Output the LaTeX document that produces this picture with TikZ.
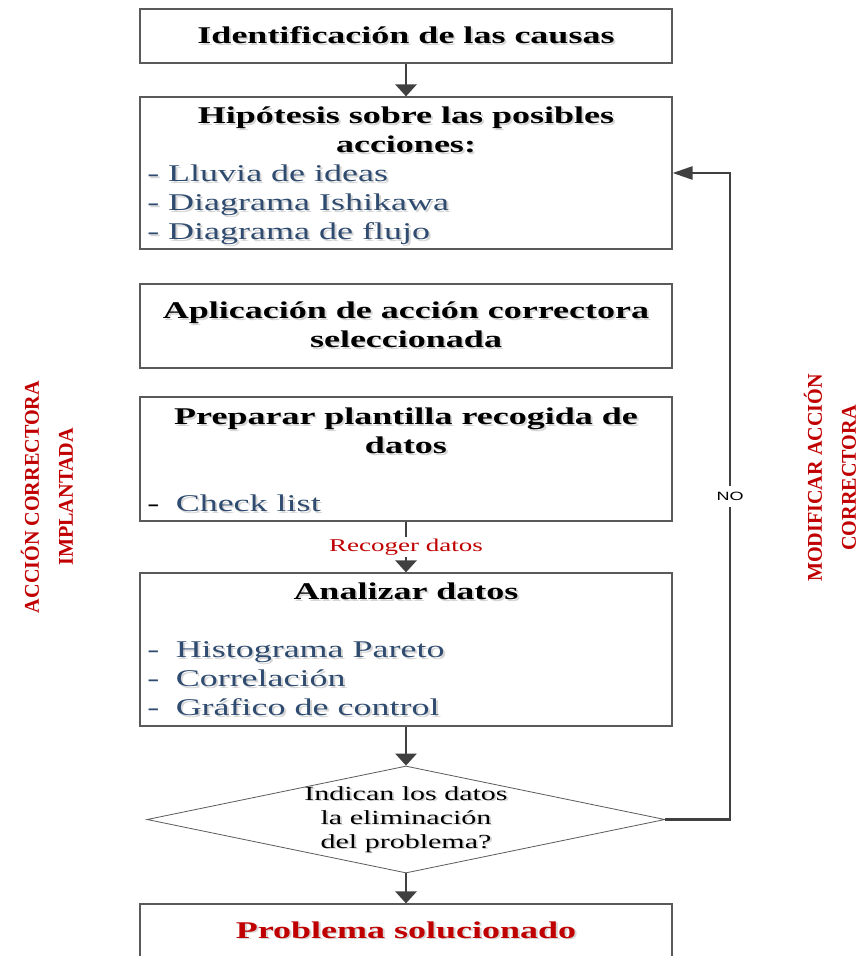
\documentclass[tikz,border=0pt]{standalone}
\usepackage{fontspec}
\setmainfont{Liberation Serif}
\newfontfamily\nofont{Liberation Sans}
\usepackage{graphicx}
\usetikzlibrary{arrows.meta,shapes.geometric}

\definecolor{linegray}{HTML}{404040}
\definecolor{framegray}{HTML}{5A5A5A}
\definecolor{accred}{HTML}{C00000}
\definecolor{itemblue}{HTML}{2F4B70}
\definecolor{ghost}{gray}{0.84}

% horizontally widened text, as in the original layout
\newcommand\wide[1]{\scalebox{1.5}[1]{#1}}
% text with a soft grey drop shadow
\newcommand\shd[1]{\leavevmode\rlap{\hspace{1.3pt}\raisebox{-1.6pt}{\color{ghost}#1}}#1}
% item with a wide dash
\newcommand\itm[1]{\leavevmode\makebox[19pt][l]{-}\shd{#1}}

\tikzset{
  stepbox/.style={draw=framegray, line width=1.2pt, fill=white, rectangle,
    minimum width=532pt, inner sep=0pt, align=center},
  ttl/.style={font=\bfseries\fontsize{24}{29}\selectfont},
  flow/.style={draw=linegray, line width=2.8pt, -{Triangle[length=12pt,width=21pt]}},
  back/.style={draw=linegray, line width=2.5pt, -{Triangle[length=20pt,width=13pt]}},
  sidelbl/.style={rotate=90, text=accred, align=center,
    font=\bfseries\fontsize{21}{34}\selectfont},
}

\begin{document}
\begin{tikzpicture}[x=1pt,y=-1pt]
\useasboundingbox (0,0) rectangle (866,956);

% main column of steps
\node[stepbox, minimum height=54pt, ttl] (b1) at (406,36)
  {\wide{\shd{Identificación de las causas}}};

\node[stepbox, minimum height=152pt] (b2) at (406,173)
  {\wide{\begin{minipage}{345pt}\fontsize{24}{29}\selectfont
    \vspace*{8pt}
    \centering\bfseries \shd{Hipótesis sobre las posibles}\\ \shd{acciones:}\par
    \raggedright\mdseries\color{itemblue}
    \shd{- Lluvia de ideas}\\ \shd{- Diagrama Ishikawa}\\ \shd{- Diagrama de flujo}
  \end{minipage}}};

\node[stepbox, minimum height=84pt] (b3) at (406,326)
  {\wide{\begin{minipage}{345pt}\fontsize{24}{29}\selectfont
    \centering\bfseries \shd{Aplicación de acción correctora}\\ \shd{seleccionada}
  \end{minipage}}};

\node[stepbox, minimum height=124pt] (b4) at (406,459)
  {\wide{\begin{minipage}{345pt}\fontsize{24}{29}\selectfont
    \vspace*{3pt}
    \centering\bfseries \shd{Preparar plantilla recogida de}\\ \shd{datos}\par
    \vspace{29pt}\raggedright\mdseries
    \leavevmode\makebox[19pt][l]{-}{\color{itemblue}\shd{Check list}}
  \end{minipage}}};

\node[stepbox, minimum height=153pt] (b5) at (406,649.5)
  {\wide{\begin{minipage}{345pt}\fontsize{24}{29}\selectfont
    \vspace*{2pt}
    \centering\bfseries \shd{Analizar datos}\par
    \vspace{29pt}\raggedright\mdseries\color{itemblue}
    \itm{Histograma Pareto}\\ \itm{Correlación}\\ \itm{Gráfico de control}
  \end{minipage}}};

\node[draw=framegray, line width=0.8pt, diamond, minimum width=518pt,
      minimum height=107pt, inner sep=0pt,
      label={[name=dtext, align=center, font=\fontsize{20}{24}\selectfont]center:
        \wide{\begin{tabular}{@{}c@{}}\shd{Indican los datos}\\ \shd{la eliminación}\\
        \shd{del problema?}\end{tabular}}}] (dia) at (406,819.5) {};

\node[stepbox, minimum height=54pt, ttl, text=accred] (b6) at (406,931)
  {\wide{\shd{Problema solucionado}}};

% connectors
\draw[flow] (b1.south) -- (b2.north);
\draw[flow] (b4.south) -- node[fill=white, inner sep=2pt, text=accred,
  font=\fontsize{18}{20}\selectfont] (rec) {\wide{Recoger datos}} (b5.north);
\draw[flow] (b5.south) -- (dia.north);
\draw[flow] (dia.south) -- (b6.north);

% loop back when the action has to be changed
\coordinate (fbk) at (730,173);
\draw[back] (dia.east) -| node[pos=0.75, fill=white, inner xsep=2pt, inner ysep=6pt,
  font=\nofont\fontsize{12}{14}\selectfont] (no) {\wide{NO}} (fbk) -- (b2.east);

% side captions
\node[sidelbl] (lleft) at (47,497) {\scalebox{0.96}[1]{ACCIÓN CORRECTORA}\\\scalebox{0.96}[1]{IMPLANTADA}};
\node[sidelbl] (lright) at (830,478) {\scalebox{0.96}[1]{MODIFICAR ACCIÓN}\\\scalebox{0.96}[1]{CORRECTORA}};
\end{tikzpicture}
\end{document}
